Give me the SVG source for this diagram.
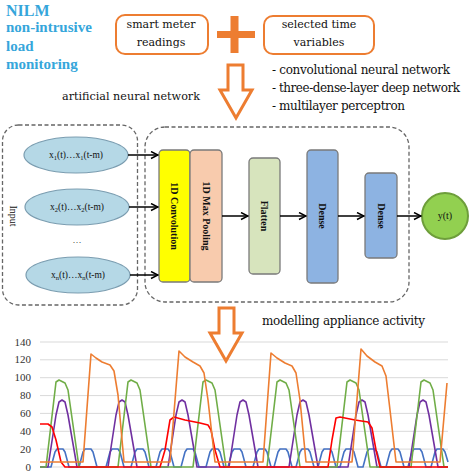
<svg xmlns="http://www.w3.org/2000/svg" width="474" height="474" viewBox="0 0 474 474">
<style>
.t{font-family:"DejaVu Serif","Liberation Serif",serif;fill:#111}
.ts{font-family:"Liberation Serif","Times New Roman",serif;fill:#111}
.nilm{font-family:"Liberation Serif",serif;font-weight:bold;fill:#35A6DB}
.ob{fill:none;stroke:#ED7D31;stroke-width:2}
.dash{fill:none;stroke:#666;stroke-width:1.3;stroke-dasharray:4 2.5}
.ell{fill:#B5D8E6;stroke:#7B9DB0;stroke-width:1.2}
.lay{stroke:#7a7a7a;stroke-width:1.3}
.lbl{font-family:"Liberation Serif",serif;font-weight:bold;font-size:10px;fill:#111}
.con{stroke:#000;stroke-width:1.5;fill:none;marker-end:url(#ah)}
.grid{stroke:#D9D9D9;stroke-width:1}
.ax{font-family:"Liberation Serif",serif;font-size:11px;fill:#333;text-anchor:end}
.s{fill:none;stroke-width:1.6;stroke-linejoin:round}
</style>
<defs>
<marker id="ah" markerWidth="9" markerHeight="9" refX="8" refY="4.5" orient="auto" markerUnits="userSpaceOnUse">
<path d="M1,1 L8,4.5 L1,8" fill="none" stroke="#000" stroke-width="1.5"/>
</marker>
</defs>
<rect width="474" height="474" fill="#fff"/>

<g id="title">
<text class="nilm" x="6" y="16" font-size="16">NILM</text>
<text class="nilm" x="6" y="32" font-size="15">non-intrusive</text>
<text class="nilm" x="6" y="51" font-size="15">load</text>
<text class="nilm" x="6" y="69" font-size="15">monitoring</text>
</g>

<g id="smart-meter">
<rect class="ob" x="116" y="15" width="92" height="39" rx="9"/>
<text class="t" x="161" y="28" font-size="11" text-anchor="middle">smart meter</text>
<text class="t" x="161" y="46" font-size="11" text-anchor="middle">readings</text>
</g>

<g id="plus">
<rect x="217" y="31" width="38" height="7" fill="#ED7D31"/>
<rect x="230.5" y="16" width="8" height="37" fill="#ED7D31"/>
</g>

<g id="time-vars">
<rect class="ob" x="264" y="16" width="110" height="38" rx="9"/>
<text class="t" x="319" y="28" font-size="11" text-anchor="middle">selected time</text>
<text class="t" x="319" y="46" font-size="11" text-anchor="middle">variables</text>
</g>

<g id="arrow1">
<path d="M228,65 L243,65 L243,90 L252,90 L236,118 L220,90 L228,90 Z" fill="#fff" stroke="#ED7D31" stroke-width="3" stroke-linejoin="miter"/>
</g>

<g id="models">
<text class="t" x="272" y="74" font-size="12" textLength="178">- convolutional neural network</text>
<text class="t" x="272" y="92" font-size="12" textLength="188">- three-dense-layer deep network</text>
<text class="t" x="272" y="110" font-size="12" textLength="133">- multilayer perceptron</text>
</g>

<text class="t" x="62" y="100" font-size="11.2" textLength="138">artificial neural network</text>

<g id="input-box">
<rect class="dash" x="2.5" y="125" width="135" height="180" rx="16"/>
<text class="ts" font-size="10" fill="#333" transform="translate(13,216) rotate(90)" text-anchor="middle" dominant-baseline="central">Input</text>
</g>

<g id="ann-box">
<rect class="dash" x="145" y="127" width="264" height="175" rx="20"/>
</g>

<g id="x1">
<ellipse class="ell" cx="76" cy="155" rx="52" ry="18"/>
<text class="ts" x="76" y="158" font-size="9.5" text-anchor="middle">x<tspan font-size="6.5" dy="2">1</tspan><tspan dy="-2">(t)…x</tspan><tspan font-size="6.5" dy="2">1</tspan><tspan dy="-2">(t-m)</tspan></text>
</g>
<g id="x2">
<ellipse class="ell" cx="77" cy="207" rx="52" ry="18"/>
<text class="ts" x="77" y="210" font-size="9.5" text-anchor="middle">x<tspan font-size="6.5" dy="2">2</tspan><tspan dy="-2">(t)…x</tspan><tspan font-size="6.5" dy="2">2</tspan><tspan dy="-2">(t-m)</tspan></text>
</g>
<text class="ts" x="77" y="243" font-size="9" fill="#666" text-anchor="middle">…</text>
<g id="xn">
<ellipse class="ell" cx="78" cy="275" rx="52" ry="18"/>
<text class="ts" x="78" y="278" font-size="9.5" text-anchor="middle">x<tspan font-size="6.5" dy="2">n</tspan><tspan dy="-2">(t)…x</tspan><tspan font-size="6.5" dy="2">n</tspan><tspan dy="-2">(t-m)</tspan></text>
</g>

<g id="conv">
<rect class="lay" x="159" y="150" width="31" height="132" rx="4" fill="#FFFF00"/>
<text class="lbl" transform="translate(174.5,216) rotate(90)" text-anchor="middle" dominant-baseline="central">1D Convolution</text>
</g>
<g id="pool">
<rect class="lay" x="190" y="150" width="32" height="132" rx="4" fill="#F8CBAD"/>
<text class="lbl" transform="translate(206,216) rotate(90)" text-anchor="middle" dominant-baseline="central">1D Max Pooling</text>
</g>
<g id="flatten">
<rect class="lay" x="249" y="158" width="31" height="116" rx="4" fill="#D7E4BD"/>
<text class="lbl" transform="translate(264.5,216) rotate(90)" text-anchor="middle" dominant-baseline="central">Flatten</text>
</g>
<g id="dense1">
<rect class="lay" x="307" y="150" width="31" height="133" rx="4" fill="#8DB3E2"/>
<text class="lbl" transform="translate(322.5,216) rotate(90)" text-anchor="middle" dominant-baseline="central">Dense</text>
</g>
<g id="dense2">
<rect class="lay" x="365" y="173" width="32" height="85" rx="4" fill="#8DB3E2"/>
<text class="lbl" transform="translate(381,216) rotate(90)" text-anchor="middle" dominant-baseline="central">Dense</text>
</g>
<g id="output">
<circle cx="445" cy="216" r="23" fill="#92D050" stroke="#6E9E3B" stroke-width="2"/>
<text class="ts" x="445" y="219" font-size="10" text-anchor="middle">y(t)</text>
</g>

<g id="connectors">
<line class="con" x1="128" y1="155" x2="158" y2="155"/>
<line class="con" x1="129" y1="207" x2="158" y2="207"/>
<line class="con" x1="130" y1="275" x2="158" y2="275"/>
<line class="con" x1="222" y1="216" x2="248" y2="216"/>
<line class="con" x1="280" y1="216" x2="306" y2="216"/>
<line class="con" x1="338" y1="216" x2="364" y2="216"/>
<line class="con" x1="397" y1="216" x2="421" y2="216"/>
</g>

<text class="t" x="262" y="325" font-size="12" textLength="163">modelling appliance activity</text>

<g id="chart">
<g class="grid">
<line x1="40" y1="342" x2="448" y2="342"/>
<line x1="40" y1="359.8" x2="448" y2="359.8"/>
<line x1="40" y1="377.7" x2="448" y2="377.7"/>
<line x1="40" y1="395.6" x2="448" y2="395.6"/>
<line x1="40" y1="413.4" x2="448" y2="413.4"/>
<line x1="40" y1="431.3" x2="448" y2="431.3"/>
<line x1="40" y1="449.1" x2="448" y2="449.1"/>
<line x1="40" y1="467" x2="448" y2="467"/>
</g>
<text class="ax" x="31" y="345.5">140</text>
<text class="ax" x="31" y="363.3">120</text>
<text class="ax" x="31" y="381.2">100</text>
<text class="ax" x="31" y="399.1">80</text>
<text class="ax" x="31" y="416.9">60</text>
<text class="ax" x="31" y="434.8">40</text>
<text class="ax" x="31" y="452.6">20</text>
<text class="ax" x="31" y="470.5">0</text>

<path class="s" stroke="#4472C4" d="M40,467 L51,467 L55,452 L57,449 L63,449 L65,452 L69,467 L79,467 L83,452 L85,449 L91,449 L93,452 L97,467 L106,467 L110,452 L112,449 L118,449 L120,452 L124,467 L131,467 L135,452 L137,449 L143,449 L145,452 L149,467 L156,467 L160,452 L162,449 L168,449 L170,452 L174,467 L181,467 L185,452 L187,449 L193,449 L195,452 L199,467 L206,467 L210,452 L212,449 L218,449 L220,452 L224,467 L228,467 L232,452 L234,449 L240,449 L242,452 L246,467 L253,467 L257,452 L259,449 L265,449 L267,452 L271,467 L274,467 L278,452 L280,449 L286,449 L288,452 L292,467 L296,467 L300,452 L302,449 L308,449 L310,452 L314,467 L318,467 L322,452 L324,449 L330,449 L332,452 L336,467 L340,467 L344,452 L346,449 L352,449 L354,452 L358,467 L363,467 L367,452 L369,449 L375,449 L377,452 L381,467 L386,467 L390,452 L392,449 L398,449 L400,452 L404,467 L408,467 L412,452 L414,449 L420,449 L422,452 L426,467 L431,467 L435,452 L437,449 L443,449 L445,452 L448,462"/>

<path class="s" stroke="#7030A0" d="M40,467 L48,467 L56,415 L59,402 L62,400 L65,402 L68,415 L77,467 L108,467 L116,415 L119,402 L122,400 L125,402 L128,415 L137,467 L168,467 L176,415 L179,402 L182,400 L185,402 L188,415 L197,467 L229,467 L237,415 L240,402 L243,400 L246,402 L249,415 L258,467 L289,467 L297,415 L300,402 L303,400 L306,402 L309,415 L318,467 L348,467 L356,415 L359,402 L362,400 L365,402 L368,415 L377,467 L409,467 L417,415 L420,402 L423,400 L426,402 L429,415 L438,467 L448,467"/>

<path class="s" stroke="#70AD47" d="M40,467 L46,467 L56,382 L59,380 L65,383 L68,390 L79,467 L118,467 L128,382 L131,380 L137,383 L140,390 L151,467 L193,467 L203,382 L206,380 L212,383 L215,390 L226,467 L267,467 L277,382 L280,380 L286,383 L289,390 L300,467 L337,467 L347,382 L350,380 L356,383 L359,390 L370,467 L411,467 L421,382 L424,380 L430,383 L433,390 L444,467 L448,467"/>

<path class="s" stroke="#FF0000" d="M40,424 L48,424 L52,427 L56,440 L61,462 L65,467 L160,467 L165,450 L170,420 L174,417 L185,420 L200,423 L208,425 L211,430 L215,450 L220,467 L328,467 L332,440 L336,418 L340,417 L355,420 L368,422 L372,428 L376,450 L380,467 L448,467"/>

<path class="s" stroke="#ED7D31" d="M40,462 L83,462 L91,354 L96,358 L102,362 L110,365 L114,371 L118,395 L124,462 L170,462 L179,351 L185,357 L193,362 L200,366 L204,373 L208,400 L215,462 L263,462 L271,353 L277,358 L285,363 L292,366 L296,373 L300,400 L306,462 L352,462 L361,349 L367,356 L375,362 L382,366 L386,376 L390,410 L396,462 L440,462 L447,383"/>
</g>

<g id="arrow2">
<path d="M219,308 L234,308 L234,333 L242,333 L226,361 L210,333 L219,333 Z" fill="#fff" stroke="#ED7D31" stroke-width="3" stroke-linejoin="miter"/>
</g>
</svg>
